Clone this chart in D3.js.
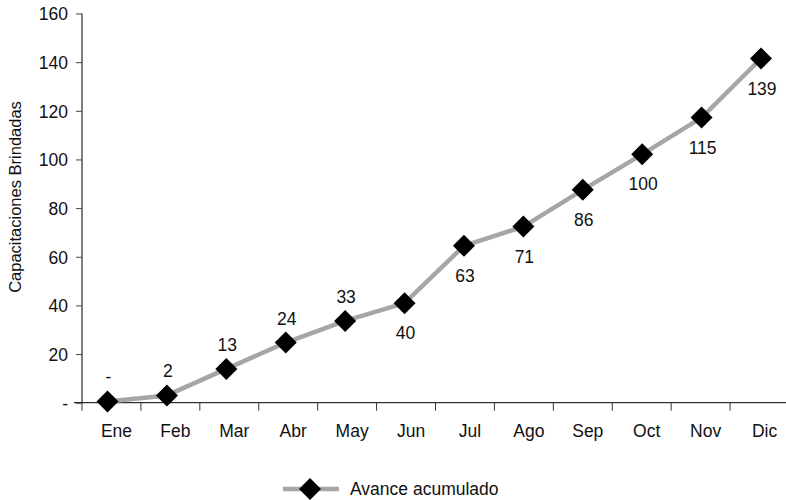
<!DOCTYPE html>
<html><head><meta charset="utf-8">
<script src="https://cdn.jsdelivr.net/npm/d3@7"></script>
<style>body{margin:0;background:#fff}svg{display:block}text{font-family:"Liberation Sans",Arial,sans-serif;fill:#111}</style>
</head><body><svg id="c" width="786" height="500"></svg>
<script>
const months = ["Ene","Feb","Mar","Abr","May","Jun","Jul","Ago","Sep","Oct","Nov","Dic"];
const values = [0.5, 3.0, 13.9, 24.7, 33.6, 40.9, 64.5, 72.4, 87.5, 102.1, 117.2, 141.5];
const labels = ["-","2","13","24","33","40","63","71","86","100","115","139"];
const yTicks = [0,20,40,60,80,100,120,140,160];
const seriesName = "Avance acumulado";
const yTitle = "Capacitaciones Brindadas";

const svg = d3.select("#c");
const fs = 17.5;
const y = d3.scaleLinear().domain([0,160]).range([402.7,13.5]);
const xb = d3.scaleBand().domain(months).range([82,789]);
const xp = d3.scalePoint().domain(months).range([107.5,761]);

// y axis
const ya = svg.append("g").attr("transform","translate(82,0)")
  .call(d3.axisLeft(y).tickValues(yTicks).tickSize(6).tickPadding(8).tickFormat(d=>d===0?"-":d));
ya.attr("font-size",null).attr("font-family",null);
ya.select(".domain").attr("stroke","#000").attr("d","M0,13.5V402.7");
ya.selectAll(".tick line").attr("stroke","#444");
ya.selectAll("text").style("font-size",fs+"px").attr("fill","#111").attr("dy","0.36em");

// x axis
const xa = svg.append("g").attr("transform","translate(0,402.7)");
xa.append("line").attr("x1",74).attr("x2",789).attr("stroke","#000");
const bounds = months.map(m=>xb(m));
xa.selectAll(".xt").data(bounds).enter().append("line")
  .attr("x1",d=>d).attr("x2",d=>d).attr("y1",0).attr("y2",8).attr("stroke","#333");
xa.selectAll(".xl").data(months).enter().append("text")
  .attr("x",d=>xb(d)+xb.bandwidth()/2+5).attr("y",34).attr("text-anchor","middle")
  .style("font-size",fs+"px").text(d=>d);

// y title
svg.append("text").attr("transform","translate(21,197) rotate(-90)")
  .attr("text-anchor","middle").style("font-size",(fs-1)+"px").text(yTitle);

// line
const line = d3.line().x((d,i)=>xp(months[i])).y(d=>y(d));
svg.append("path").datum(values).attr("d",line).attr("fill","none")
  .attr("stroke","#a6a6a6").attr("stroke-width",4.5).attr("stroke-linejoin","round");

const diamond = "M0,-11L11,0L0,11L-11,0Z";
svg.selectAll(".mk").data(values).enter().append("path")
  .attr("d",diamond).attr("fill","#000")
  .attr("transform",(d,i)=>`translate(${xp(months[i])},${y(d)})`);

// data labels
svg.selectAll(".dl").data(values).enter().append("text")
  .attr("x",(d,i)=>xp(months[i])+1)
  .attr("y",(d,i)=> i<5 ? y(d)-24+6 : y(d)+30+6)
  .attr("text-anchor","middle").style("font-size",fs+"px")
  .text((d,i)=>labels[i]);

// legend
const lg = svg.append("g");
lg.append("line").attr("x1",283).attr("x2",339).attr("y1",489).attr("y2",489)
  .attr("stroke","#a6a6a6").attr("stroke-width",4.5);
lg.append("path").attr("d",diamond).attr("fill","#000").attr("transform","translate(310,489)");
lg.append("text").attr("x",350).attr("y",495).style("font-size",fs+"px").text(seriesName);
</script></body></html>
